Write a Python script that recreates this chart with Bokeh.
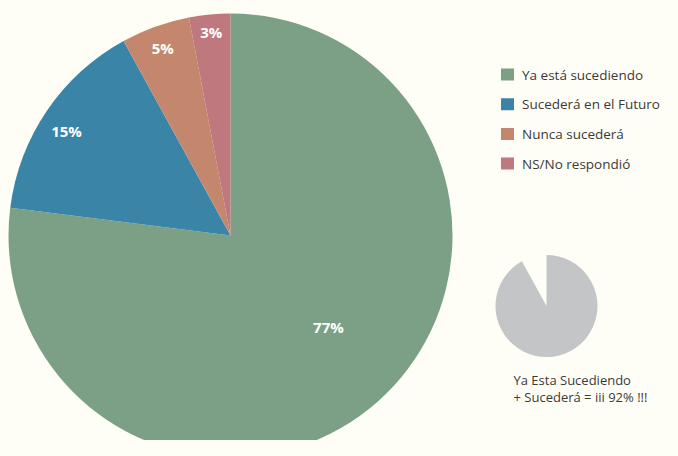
import math
from bokeh.plotting import figure
from bokeh.models import Range1d, ColumnDataSource
from bokeh.core.properties import value
from bokeh.embed import file_html
from bokeh.resources import INLINE

categories = ["Ya está sucediendo", "Sucederá en el Futuro", "Nunca sucederá", "NS/No respondió"]
shares = [77, 15, 5, 3]
labels = ["77%", "15%", "5%", "3%"]
colors = ["#7BA085", "#3A84A8", "#C4876D", "#BE787E"]

summary_value = 92
summary_lines = ["Ya Esta Sucediendo", "+ Sucederá = iii 92% !!!"]

W, H = 662, 440
BG = "#FFFEF6"
FONT = "Open Sans"

p = figure(width=W, height=H, output_backend="svg", toolbar_location=None,
           x_range=Range1d(0, W), y_range=Range1d(0, H), min_border=0,
           background_fill_color=BG, border_fill_color=BG)
p.axis.visible = False
p.grid.visible = False
p.outline_line_color = None

# main pie
cx, cy, R = 230, H - 235, 222
total = sum(shares)
starts, ends = [], []
a = math.pi / 2
for s in shares:
    starts.append(a)
    a -= 2 * math.pi * s / total
    ends.append(a)
src = ColumnDataSource(dict(start=starts, end=ends, color=colors))
p.wedge(x=cx, y=cy, radius=R, start_angle="start", end_angle="end",
        direction="clock", fill_color="color", line_color=None, source=src)

rfac = [0.605, 0.875, 0.90, 0.923]
aoff = [0.094, 0.031, 0.0, 0.0]
lx, ly = [], []
for st, en, f, o in zip(starts, ends, rfac, aoff):
    m = (st + en) / 2 + o
    lx.append(cx + R * f * math.cos(m))
    ly.append(cy + R * f * math.sin(m))
p.text(x=lx, y=ly, text=labels, text_color="white", text_font=value(FONT),
       text_font_style="bold", text_font_size="15px", text_align="center",
       text_baseline="middle")

# legend
lgx, lgy, step = 507, H - 74, 29.7
ys = [lgy - i * step for i in range(len(categories))]
p.rect(x=[lgx] * 4, y=ys, width=13, height=12, fill_color=colors, line_color=None)
p.text(x=[lgx + 14.5] * 4, y=ys, text=categories, text_color="#3a3a3a",
       text_font=value(FONT), text_font_size="13.5px", text_baseline="middle")

# summary pie
scx, scy, sR = 546, H - 305.5, 51
sstart = math.pi / 2
send = sstart - 2 * math.pi * summary_value / 100
p.wedge(x=scx, y=scy, radius=sR, start_angle=sstart, end_angle=send,
        direction="clock", fill_color="#C4C5C7", line_color=None)
p.text(x=[513, 513], y=[H - 379, H - 396], text=summary_lines, text_color="#3a3a3a",
       text_font=value(FONT), text_font_size="13px", text_baseline="middle")

html = file_html(p, INLINE)
html = html.replace("<head>", "<head><style>body{background:%s}</style>" % BG, 1)
open("out.html", "w").write(html)
